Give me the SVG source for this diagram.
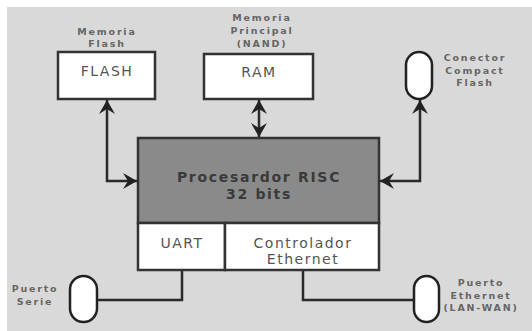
<svg xmlns="http://www.w3.org/2000/svg" width="532" height="331" viewBox="0 0 532 331">
<style>
.box{fill:#fff;stroke:#333;stroke-width:2.5}
.cpu{fill:#8a8a8a;stroke:#333;stroke-width:2.5}
.pill{fill:#fff;stroke:#222;stroke-width:2.5}
.wire{fill:none;stroke:#2a2a2a;stroke-width:2.5}
.lbl{font-family:"DejaVu Sans",sans-serif;font-size:9.5px;font-weight:bold;fill:#666;letter-spacing:1.8px;text-anchor:middle}
.big{font-family:"DejaVu Sans",sans-serif;font-size:14px;fill:#555;letter-spacing:1.5px;text-anchor:middle}
.cput{font-family:"DejaVu Sans",sans-serif;font-size:14px;font-weight:bold;fill:#3a3a3a;letter-spacing:1.7px;text-anchor:middle}
</style>
<defs>
<marker id="ah" markerUnits="userSpaceOnUse" markerWidth="18" markerHeight="18" viewBox="-15 -9 17 18" refX="0" refY="0" orient="auto-start-reverse">
<path d="M0,0 L-14,-8 L-9,0 L-14,8 Z" fill="#222"/>
</marker>
</defs>
<rect x="0" y="0" width="532" height="331" fill="#fff"/>
<rect x="7" y="7" width="525" height="324" fill="#d9d9d9"/>
<g id="connectors">
<path class="wire" d="M107,100 V181 H137" marker-start="url(#ah)" marker-end="url(#ah)"/>
<path class="wire" d="M259,100 V137" marker-start="url(#ah)" marker-end="url(#ah)"/>
<path class="wire" d="M420,100 V181 H380" marker-start="url(#ah)" marker-end="url(#ah)"/>
<path class="wire" d="M182,270 V300 H97"/>
<path class="wire" d="M303,270 V300 H414"/>
</g>
<g id="flash">
<text class="lbl" x="107" y="35">Memoria</text>
<text class="lbl" x="107" y="47">Flash</text>
<rect class="box" x="58" y="52" width="97" height="47"/>
<text class="big" x="107" y="76">FLASH</text>
</g>
<g id="ram">
<text class="lbl" x="262" y="21">Memoria</text>
<text class="lbl" x="262" y="34">Principal</text>
<text class="lbl" x="262" y="47">(NAND)</text>
<rect class="box" x="204" y="54" width="109" height="45"/>
<text class="big" x="259" y="77">RAM</text>
</g>
<g id="compactflash">
<rect class="pill" x="406" y="52" width="26" height="47" rx="13"/>
<text class="lbl" x="475" y="61">Conector</text>
<text class="lbl" x="475" y="74">Compact</text>
<text class="lbl" x="475" y="86">Flash</text>
</g>
<g id="cpu">
<rect class="cpu" x="138" y="138" width="241" height="85"/>
<text class="cput" x="259" y="182">Procesardor RISC</text>
<text class="cput" x="259" y="199">32 bits</text>
</g>
<g id="uart">
<rect class="box" x="138" y="223" width="87" height="47"/>
<text class="big" x="182" y="248">UART</text>
</g>
<g id="ethctrl">
<rect class="box" x="225" y="223" width="154" height="47"/>
<text class="big" x="303" y="248">Controlador</text>
<text class="big" x="303" y="264">Ethernet</text>
</g>
<g id="serie">
<rect class="pill" x="70" y="276" width="27" height="46" rx="13.5"/>
<text class="lbl" x="35" y="292">Puerto</text>
<text class="lbl" x="35" y="305">Serie</text>
</g>
<g id="ethport">
<rect class="pill" x="414" y="276" width="25" height="46" rx="12.5"/>
<text class="lbl" x="481" y="286">Puerto</text>
<text class="lbl" x="481" y="299">Ethernet</text>
<text class="lbl" x="481" y="311">(LAN-WAN)</text>
</g>
</svg>
